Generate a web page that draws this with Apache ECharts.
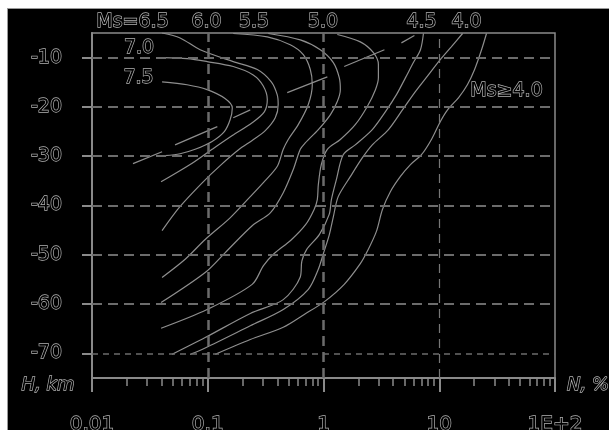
<!DOCTYPE html>
<html>
<head>
<meta charset="utf-8">
<script src="https://cdn.jsdelivr.net/npm/echarts@6/dist/echarts.min.js"></script>
<style>
  html, body { margin: 0; padding: 0; background: #fff; width: 609px; height: 430px; overflow: hidden; }
  #frame { position: absolute; left: 7px; top: 8px; width: 602px; height: 422px; box-sizing: border-box;
           border-top: 1px solid #9a9a9a; border-left: 1px solid #9a9a9a; background: #000; }
  #chart { position: absolute; left: 0; top: 0; width: 601px; height: 421px; }
</style>
</head>
<body>
<div id="frame"><div id="chart"></div></div>
<script>
// Isolines of N (%) versus depth H (km), one per surface-wave magnitude Ms.
// Each point is [N, H].
const curve75 = [[0.0403,-14.9],[0.0663,-15.5],[0.0988,-16.5],[0.141,-18.3],[0.163,-20.2],[0.156,-22.6],[0.139,-25.0],[0.109,-27.0],[0.0778,-28.6],[0.0577,-29.5],[0.0428,-29.9]];
const curve70 = [[0.0411,-10.0],[0.0663,-10.2],[0.0988,-10.8],[0.166,-11.8],[0.247,-13.5],[0.301,-15.7],[0.327,-18.5],[0.308,-21.0],[0.242,-23.2],[0.163,-25.8],[0.109,-28.6],[0.0704,-31.7],[0.0395,-35.2]];
const curve65 = [[0.0403,-5.0],[0.0577,-6.0],[0.0860,-8.4],[0.166,-10.8],[0.268,-12.4],[0.354,-14.9],[0.398,-17.5],[0.406,-19.5],[0.383,-22.2],[0.314,-24.8],[0.242,-26.8],[0.187,-28.6],[0.128,-31.9],[0.0895,-35.4],[0.0577,-40.2],[0.0403,-45.1]];
const curve60 = [[0.166,-5.1],[0.327,-5.8],[0.516,-7.4],[0.669,-9.4],[0.769,-12.4],[0.800,-15.5],[0.739,-19.5],[0.605,-23.6],[0.496,-26.6],[0.449,-28.6],[0.398,-32.1],[0.301,-35.4],[0.233,-38.2],[0.156,-42.5],[0.0950,-46.9],[0.0638,-50.9],[0.0403,-54.6]];
const curve55 = [[0.333,-5.1],[0.630,-6.4],[0.938,-8.4],[1.216,-11.0],[1.370,-14.1],[1.398,-16.5],[1.316,-18.9],[1.145,-21.6],[0.902,-24.6],[0.696,-27.3],[0.630,-28.6],[0.548,-32.7],[0.449,-37.4],[0.347,-41.5],[0.242,-44.1],[0.141,-49.6],[0.0950,-53.6],[0.0395,-59.7]];
const curve50 = [[1.316,-5.3],[2.08,-6.8],[2.70,-9.0],[2.98,-11.4],[2.98,-14.1],[2.81,-16.5],[2.39,-19.9],[1.88,-23.6],[1.398,-26.6],[1.079,-28.6],[0.957,-31.7],[0.902,-35.8],[0.884,-38.8],[0.830,-40.8],[0.700,-43.9],[0.525,-47.0],[0.373,-49.8],[0.303,-52.2],[0.242,-56.0],[0.0988,-61.1],[0.0395,-64.9]];
const curve45 = [[7.30,-5.1],[6.88,-8.4],[5.98,-11.0],[5.10,-14.1],[4.27,-17.5],[3.42,-21.0],[2.64,-24.6],[1.88,-27.7],[1.48,-29.7],[1.29,-34.8],[1.17,-38.8],[1.12,-41.8],[0.920,-45.9],[0.716,-48.9],[0.650,-51.3],[0.630,-54.5],[0.449,-59.1],[0.233,-61.9],[0.0950,-66.8],[0.0492,-70.2]];
const curve40 = [[15.9,-5.1],[12.7,-7.8],[10.2,-10.4],[8.06,-13.5],[6.22,-16.9],[4.81,-20.6],[3.64,-24.6],[2.64,-27.7],[2.17,-30.3],[1.71,-34.1],[1.34,-38.2],[1.216,-42.3],[1.12,-46.0],[0.996,-49.8],[0.900,-53.0],[0.740,-57.0],[0.449,-61.1],[0.233,-64.4],[0.0950,-68.9],[0.0704,-70.2]];
const curveAll = [[25.6,-5.1],[23.2,-8.4],[20.2,-12.4],[17.5,-15.5],[14.7,-18.1],[11.8,-20.6],[10.2,-23.0],[8.56,-26.6],[7.02,-29.7],[5.64,-31.7],[4.62,-34.1],[3.78,-37.2],[3.23,-40.8],[2.86,-45.3],[2.39,-49.3],[2.08,-51.8],[1.51,-56.0],[1.02,-59.5],[0.682,-62.1],[0.449,-64.7],[0.233,-67.2],[0.116,-70.2]];

// Broken line through the isoline maxima, drawn piece by piece.
const ridgeSegments = [
  [[0.0226,-31.5],[0.0403,-29.1]],
  [[0.0522,-27.7],[0.121,-24.0]],
  [[0.166,-22.2],[0.233,-20.6]],
  [[0.486,-17.1],[1.079,-13.9]],
  [[1.51,-11.8],[3.36,-8.4]],
  [[4.71,-7.0],[6.10,-5.5]]
];

const curveNames = ['7.5','7.0','6.5','6.0','5.5','5.0','4.5','4.0','Ms≥4.0'];
const curves = [curve75, curve70, curve65, curve60, curve55, curve50, curve45, curve40, curveAll];

// Axis ticks and labels
const yTickValues = [-10,-20,-30,-40,-50,-60,-70];
const xTickLabels = ['0.01','0.1','1','10','1E+2'];
const xGridValues = [0.1, 1, 10];
const minorMultipliers = [2,3,4,5,6,7,8,9];
const decades = [-2,-1,0,1];

// Text labels drawn over the plot
const topLabels = ['Ms=6.5','6.0','5.5','5.0','4.5','4.0'];
const sideLabels = ['7.0','7.5','Ms≥4.0'];
const yName = 'H, km';
const xName = 'N, %';

const GRAY = '#8a8a8a';
const TEXT_STROKE = '#b4b4b4';

const minorTickLogs = [];
decades.forEach(d => minorMultipliers.forEach(m => minorTickLogs.push(d + Math.log10(m))));

const chart = echarts.init(document.getElementById('chart'), null, { renderer: 'canvas' });

// Outlined lettering: black fill with a thin grey contour
const hollowText = (size, italic) => ({
  fontFamily: 'DejaVu Sans',
  fontSize: size,
  fontStyle: italic ? 'italic' : 'normal',
  color: '#000',
  textBorderColor: TEXT_STROKE,
  textBorderWidth: 1.3
});

const gfxText = (text, x, y, size, align, italic) => ({
  type: 'text', x: x, y: y, z: 100, silent: true,
  style: {
    text: text,
    font: (italic ? 'italic ' : '') + size + 'px "DejaVu Sans"',
    fill: '#000', stroke: TEXT_STROKE, lineWidth: 1.3,
    align: align, textAlign: align, verticalAlign: 'middle', textVerticalAlign: 'middle'
  }
});

const topX = [124.5, 198.5, 246, 315, 413.5, 458.5];
const sidePos = [[131, 39.5], [130.5, 69.5], [498.5, 82]];

const graphic = [];
topLabels.forEach((t, i) => graphic.push(gfxText(t, topX[i], 13, 19, 'center')));
sideLabels.forEach((t, i) => graphic.push(gfxText(t, sidePos[i][0], sidePos[i][1], 19, 'center')));
graphic.push(gfxText(yName, 40, 376, 18, 'center', true));
graphic.push(gfxText(xName, 559, 376, 18, 'left', true));

const mainDash = { color: '#6c6c6c', width: 2, type: [10, 6] };
const fineDash = { color: '#6c6c6c', width: 1.5, type: [6, 5] };
const vertDash = { color: '#6c6c6c', width: 2.5, type: [10, 6] };
const lightVert = { color: '#777', width: 1.2, type: [9, 6] };

const series = [];
series.push({
  type: 'line', data: [], silent: true, z: 1,
  markLine: {
    silent: true, symbol: ['none', 'none'], label: { show: false }, animation: false,
    emphasis: { disabled: true },
    data: yTickValues.map(v => ({ yAxis: v, lineStyle: v === -70 ? fineDash : mainDash }))
      .concat(xGridValues.map(v => ({ xAxis: v, lineStyle: v === 10 ? lightVert : vertDash })))
  }
});
curves.forEach((c, i) => series.push({
  name: curveNames[i], type: 'line', data: c, showSymbol: false, smooth: 0.3, z: 3,
  silent: true, lineStyle: { color: '#8e8e8e', width: 1.2 }
}));
ridgeSegments.forEach(seg => series.push({
  type: 'line', data: seg, showSymbol: false, z: 3, silent: true,
  lineStyle: { color: '#8e8e8e', width: 1.2 }
}));

chart.setOption({
  backgroundColor: '#000',
  animation: false,
  grid: { left: 84, top: 24, width: 463, height: 345, show: true, borderColor: GRAY, borderWidth: 1.5,
          backgroundColor: 'transparent', containLabel: false, outerBoundsMode: 'none' },
  xAxis: [
    { type: 'log', logBase: 10, min: 0.01, max: 100, position: 'bottom',
      axisLine: { show: true, onZero: false, lineStyle: { color: GRAY, width: 2 } },
      axisTick: { show: true, inside: false, length: 14, lineStyle: { color: GRAY, width: 2 } },
      axisLabel: Object.assign({ margin: 37,
        formatter: v => xTickLabels[Math.round(Math.log10(v)) + 2] }, hollowText(20)),
      splitLine: { show: false }, minorTick: { show: false } },
    { type: 'value', min: -2, max: 2, position: 'bottom',
      axisLine: { show: false, onZero: false },
      axisLabel: { show: false },
      axisTick: { show: true, inside: false, length: 8, customValues: minorTickLogs,
                  lineStyle: { color: GRAY, width: 1.5 } },
      splitLine: { show: false } }
  ],
  yAxis: {
    type: 'value', min: -75, max: -5,
    axisLine: { show: true, onZero: false, lineStyle: { color: GRAY, width: 2 } },
    axisTick: { show: true, inside: false, length: 10, customValues: yTickValues, lineStyle: { color: GRAY, width: 2 } },
    axisLabel: Object.assign({ margin: 30, customValues: yTickValues }, hollowText(19)),
    splitLine: { show: false }
  },
  graphic: graphic,
  series: series
});
</script>
</body>
</html>
